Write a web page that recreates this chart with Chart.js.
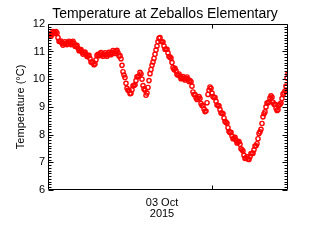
<!DOCTYPE html>
<html>
<head>
<meta charset="utf-8">
<script src="https://cdn.jsdelivr.net/npm/chart.js@4/dist/chart.umd.min.js"></script>
<style>
  html, body { margin: 0; padding: 0; background: #fff; }
  #wrap { width: 320px; height: 240px; }
</style>
</head>
<body>
<div id="wrap"><canvas id="tempChart" width="320" height="240"></canvas></div>
<script>
// hours relative to 03 Oct 2015 00:00, one reading every 12 minutes
const startHour = -32.8;
const stepHour = 0.2;
const temps = [
  11.55, 11.64, 11.6, 11.55, 11.62, 11.72, 11.7, 11.65, 11.72, 11.67,
  11.5, 11.37, 11.35, 11.38, 11.3, 11.23, 11.28, 11.35, 11.3, 11.25,
  11.32, 11.37, 11.3, 11.25, 11.32, 11.37, 11.3, 11.19, 11.2, 11.22,
  11.12, 11.03, 11.05, 11.07, 10.98, 10.9, 10.95, 10.98, 10.9, 10.82,
  10.85, 10.86, 10.75, 10.62, 10.6, 10.62, 10.52, 10.55, 10.7, 10.86,
  10.9, 10.85, 10.92, 10.96, 10.88, 10.83, 10.9, 10.95, 10.88, 10.83,
  10.9, 10.97, 10.92, 10.88, 10.95, 11.03, 10.98, 10.93, 11.0, 11.04,
  10.95, 10.84, 10.85, 10.74, 10.5, 10.27, 10.15, 10.06, 9.85, 9.67,
  9.6, 9.6, 9.48, 9.49, 9.62, 9.76, 9.78, 9.8, 9.95, 10.09,
  10.1, 10.12, 10.25, 10.19, 10.0, 9.77, 9.65, 9.6, 9.42, 9.5,
  9.7, 9.95, 10.2, 10.35, 10.5, 10.62, 10.75, 10.9, 11.05, 11.2,
  11.35, 11.48, 11.5, 11.37, 11.35, 11.34, 11.2, 11.08, 11.08, 11.08,
  10.95, 10.82, 10.8, 10.76, 10.6, 10.42, 10.35, 10.39, 10.3, 10.17,
  10.15, 10.19, 10.1, 10.02, 10.05, 10.1, 10.02, 9.97, 10.03, 10.08,
  10.0, 9.92, 9.95, 9.91, 9.75, 9.54, 9.45, 9.45, 9.33, 9.27,
  9.32, 9.37, 9.3, 9.12, 9.05, 9.05, 8.92, 8.83, 8.85, 9.15,
  9.45, 9.6, 9.72, 9.67, 9.5, 9.37, 9.35, 9.34, 9.2, 9.07,
  9.05, 9.04, 8.9, 8.78, 8.78, 8.75, 8.6, 8.47, 8.45, 8.41,
  8.25, 8.11, 8.08, 8.08, 7.95, 7.85, 7.87, 7.9, 7.8, 7.7,
  7.72, 7.75, 7.65, 7.49, 7.45, 7.41, 7.25, 7.14, 7.15, 7.2,
  7.12, 7.1, 7.2, 7.32, 7.32, 7.33, 7.45, 7.59, 7.6, 7.67,
  7.85, 8.04, 8.1, 8.19, 8.4, 8.64, 8.75, 8.82, 9.0, 9.14,
  9.15, 9.18, 9.32, 9.4, 9.35, 9.17, 9.1, 9.09, 8.95, 8.87,
  8.9, 9.06, 9.1, 9.14, 9.3, 9.46, 9.5, 9.57, 9.75, 10.04,
  10.2
];
const xTicks = [0];
const xTickLabel = ['03 Oct', '2015'];
const yMin = 6, yMax = 12;

const points = temps.map((v, i) => ({ x: startHour + i * stepHour, y: v }));

// IDL style frame with inward ticks on all four sides
const framePlugin = {
  id: 'frame',
  afterDraw(chart) {
    const { ctx, chartArea: a, scales } = chart;
    const x = scales.x, y = scales.y;
    const L = Math.round(a.left) + 0.5, R = Math.round(a.right) - 0.5;
    const T = Math.round(a.top) + 0.5, B = Math.round(a.bottom) - 0.5;
    ctx.save();
    ctx.strokeStyle = '#000';
    ctx.lineWidth = 1;
    ctx.beginPath();
    ctx.rect(L, T, R - L, B - T);
    for (let k = 0; k <= (yMax - yMin) * 10; k++) {
      const v = yMin + k / 10;
      const py = Math.round(y.getPixelForValue(v)) + 0.5;
      const len = k % 10 === 0 ? 5 : 3;
      ctx.moveTo(L, py); ctx.lineTo(L + len, py);
      ctx.moveTo(R, py); ctx.lineTo(R - len, py);
    }
    xTicks.forEach(v => {
      const px = Math.round(x.getPixelForValue(v)) + 0.5;
      ctx.moveTo(px, B); ctx.lineTo(px, B - 4);
      ctx.moveTo(px, T); ctx.lineTo(px, T + 4);
    });
    ctx.stroke();
    ctx.restore();
  }
};

new Chart(document.getElementById('tempChart').getContext('2d'), {
  type: 'scatter',
  data: {
    datasets: [{
      data: points,
      showLine: false,
      pointStyle: 'circle',
      pointRadius: 2.1,
      pointBorderWidth: 1.4,
      pointBorderColor: '#ff0000',
      pointBackgroundColor: 'rgba(255,255,255,0)'
    }]
  },
  options: {
    responsive: false,
    animation: false,
    layout: { padding: { left: 10 } },
    plugins: {
      legend: { display: false },
      tooltip: { enabled: false },
      title: {
        display: true,
        text: 'Temperature at Zeballos Elementary',
        color: '#000',
        font: { family: 'Liberation Sans', size: 14, weight: 'normal', lineHeight: 1.2 },
        padding: { top: 6, bottom: 1 }
      }
    },
    scales: {
      x: {
        type: 'linear',
        min: startHour,
        max: 15.2,
        grid: { display: false, drawTicks: false },
        border: { display: false },
        afterBuildTicks: s => { s.ticks = xTicks.map(v => ({ value: v })); },
        afterFit: s => { s.height = 50; },
        ticks: {
          color: '#000',
          padding: 7,
          labelOffset: -50,
          maxRotation: 0,
          font: { family: 'Liberation Sans', size: 11, lineHeight: 1.0 },
          callback: () => xTickLabel
        }
      },
      y: {
        min: yMin,
        max: yMax,
        grid: { display: false, drawTicks: false },
        border: { display: false },
        afterFit: s => { s.width = 38; },
        title: {
          display: true,
          text: 'Temperature (°C)',
          color: '#000',
          font: { family: 'Liberation Sans', size: 11, lineHeight: 1.2 },
          padding: { top: 4, bottom: 0 }
        },
        ticks: {
          stepSize: 1,
          color: '#000',
          padding: 3,
          font: { family: 'Liberation Sans', size: 11 }
        }
      },
      y2: {
        position: 'right',
        min: yMin,
        max: yMax,
        grid: { display: false, drawTicks: false },
        border: { display: false },
        ticks: { display: false },
        afterFit: s => { s.width = 32; }
      }
    }
  },
  plugins: [framePlugin]
});
</script>
</body>
</html>
